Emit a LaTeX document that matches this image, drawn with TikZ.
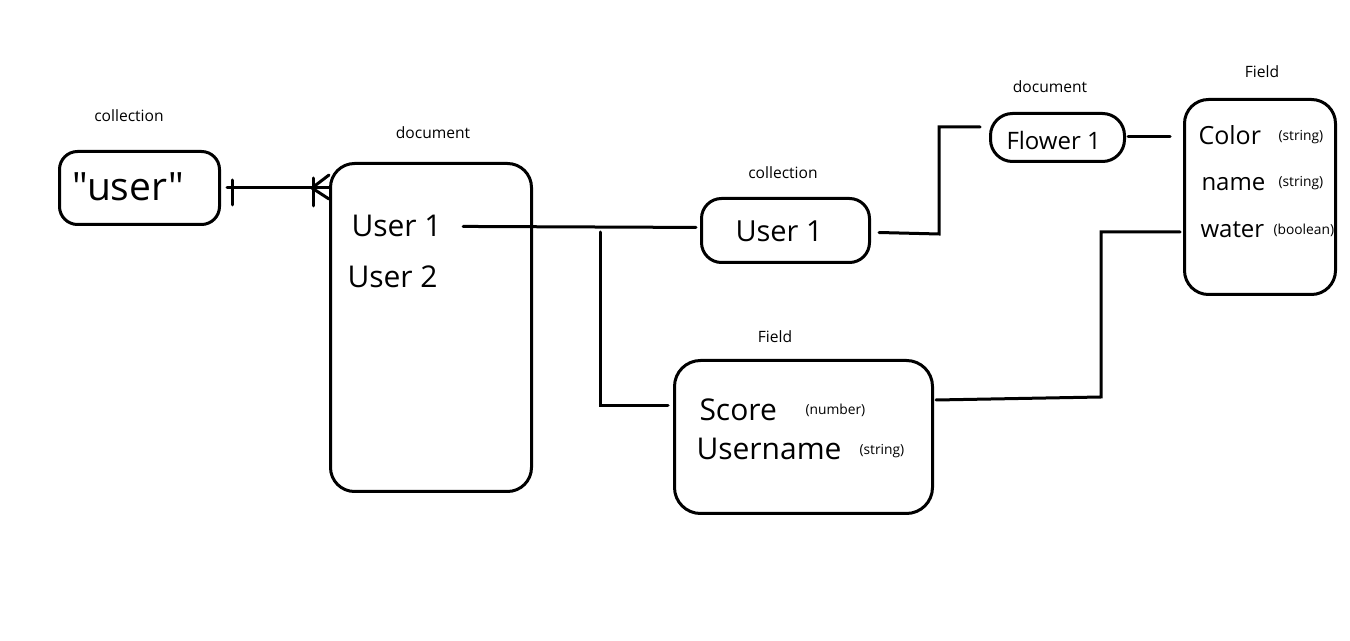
\documentclass[tikz,border=0pt]{standalone}
\usepackage{fontspec}
\setmainfont{Open Sans}
\newfontfamily\qfont{Open Sans}
\usetikzlibrary{calc}
\begin{document}
\begin{tikzpicture}[x=0.5pt,y=-0.5pt,line width=1.5pt,line cap=round,
  box/.style={draw,inner sep=0pt},
  lbl/.style={inner sep=0pt,anchor=base,font=\fontsize{7.8}{9}\selectfont},
  big/.style={inner sep=0pt,anchor=base west,font=\fontsize{15}{18}\selectfont},
  mid/.style={inner sep=0pt,anchor=base west,font=\fontsize{12}{14}\selectfont},
  typ/.style={inner sep=0pt,anchor=base west,font=\fontsize{6.9}{8}\selectfont}]
\useasboundingbox (0,0) rectangle (1350,641);

% boxes
\node[box,rounded corners=9pt,minimum width=80pt,minimum height=36.5pt] (userbox) at (139.5,188) {};
\node[box,rounded corners=12pt,minimum width=100.5pt,minimum height=164pt] (docbox) at (431,327.5) {};
\node[box,rounded corners=10pt,minimum width=84pt,minimum height=32pt] (coll1) at (785.5,230.5) {};
\node[box,rounded corners=11pt,minimum width=67pt,minimum height=24pt] (flower) at (1057.5,137.5) {};
\node[box,rounded corners=12pt,minimum width=75.5pt,minimum height=97.5pt] (field2) at (1260,197) {};
\node[box,rounded corners=13pt,minimum width=129pt,minimum height=76.5pt] (field1) at (803.5,437) {};

% labels above boxes
\node[lbl] (l1) at (129,122) {collection};
\node[lbl] (l2) at (433,139) {document};
\node[lbl] (l3) at (783,179) {collection};
\node[lbl] (l4) at (1050,93) {document};
\node[lbl] (l5) at (1262,78) {Field};
\node[lbl] (l6) at (775,343) {Field};

% texts
\node[inner sep=0pt,anchor=base west,font=\qfont\fontsize{19.5}{23}\selectfont] (usert) at (71,201) {"user"};
\node[big] (u1t) at (350,237) {User 1};
\node[big] (u2t) at (346,288) {User 2};
\node[inner sep=0pt,anchor=base west,font=\fontsize{14.5}{17}\selectfont] (c1t) at (734,242) {User 1};
\node[mid] (flt) at (1005,150) {Flower 1};
\node[mid,font=\fontsize{12.5}{15}\selectfont] (colt) at (1197,145) {Color};
\node[mid] (namt) at (1200,191) {name};
\node[mid] (watt) at (1199,238) {water};
\node[typ] (s1) at (1277,141) {(string)};
\node[typ] (s2) at (1277,187) {(string)};
\node[typ] (s3) at (1272,235) {(boolean)};
\node[big] (sct) at (698,421) {Score};
\node[big] (unt) at (695,460) {Username};
\node[typ] (s4) at (804,415) {(number)};
\node[typ] (s5) at (858,455) {(string)};

% junction coordinates
\coordinate (cf) at (userbox.east -| docbox.west);
\coordinate (j1) at (600,232);
\coordinate (j2) at (600,406);
\coordinate (j3) at (939,234);
\coordinate (j4) at (939,127);
\coordinate (j5) at (1101,232);
\coordinate (j6) at (1101,397);

% one-to-many connector
\draw ($(userbox.east)+(6,0)$) -- (cf);
\draw ($(userbox.east)+(11,-8)$) -- ++(0,25);
\draw ($(cf)+(-17,0)$) -- ($(cf)+(0,-13)$);
\draw ($(cf)+(-17,0)$) -- ($(cf)+(0,11)$);
\draw ($(cf)+(-16,-10)$) -- ++(0,28);

% other connectors
\draw ($(u1t.east)+(20,0)$) -- ($(u1t.east -| coll1.west)+(-4,1)$);
\draw (j1) -- (j2) -- ($(j2 -| field1.west)+(-5,0)$);
\draw ($(coll1.east)+(8,2)$) -- (j3) -- (j4) -- ($(j4 -| flower.west)+(-9,0)$);
\draw ($(flower.east)+(2,-1)$) -- ($(flower.east -| field2.west)+(-13,-1)$);
\draw ($(j5 -| field2.west)+(-3,0)$) -- (j5) -- (j6) -- ($(j6 -| field1.east)+(2,3)$);
\end{tikzpicture}
\end{document}
